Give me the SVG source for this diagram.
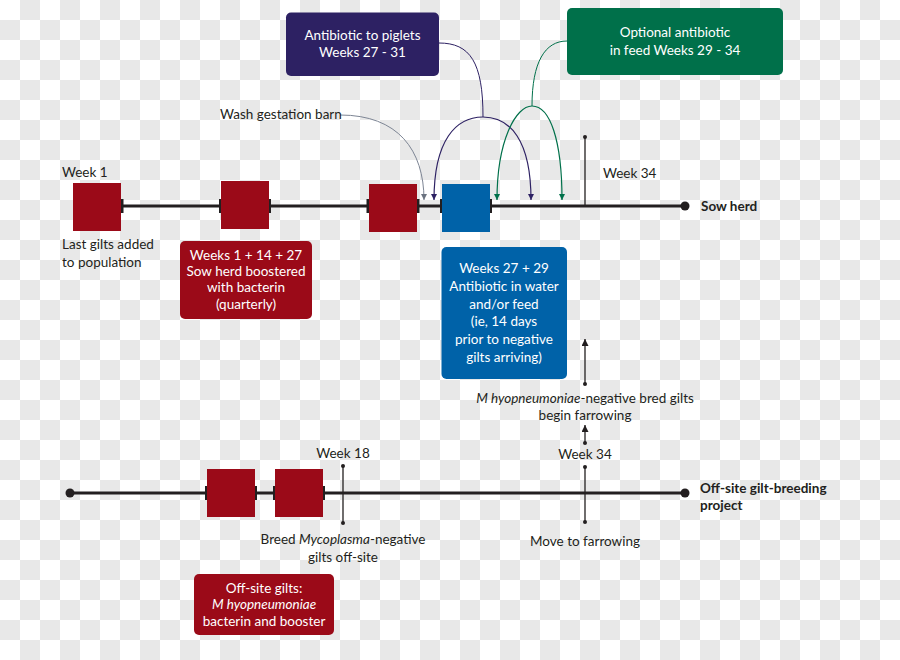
<svg xmlns="http://www.w3.org/2000/svg" width="900" height="660" viewBox="0 0 900 660">
<defs>
<marker id="aGray" viewBox="0 0 10 10" refX="5" refY="10" markerWidth="6" markerHeight="6" markerUnits="userSpaceOnUse"><path d="M0,0 L10,0 L5,10 Z" fill="#6b7380"/></marker>
<marker id="aPur" viewBox="0 0 10 10" refX="5" refY="10" markerWidth="6" markerHeight="6" markerUnits="userSpaceOnUse"><path d="M0,0 L10,0 L5,10 Z" fill="#2d2163"/></marker>
<marker id="aGrn" viewBox="0 0 10 10" refX="5" refY="10" markerWidth="6" markerHeight="6" markerUnits="userSpaceOnUse"><path d="M0,0 L10,0 L5,10 Z" fill="#00704a"/></marker>
<marker id="aUp" viewBox="0 0 10 10" refX="5" refY="0" markerWidth="7" markerHeight="8" markerUnits="userSpaceOnUse"><path d="M0,10 L5,0 L10,10 Z" fill="#231f20"/></marker>
</defs>
<style>
.t{font-family:Lato,"Open Sans","Liberation Sans",sans-serif;font-size:13.5px;fill:#231f20}
.b{font-weight:bold}
.w{fill:#ffffff;text-anchor:middle}
.c{text-anchor:middle}
.i{font-style:italic}
.tl{stroke:#231f20;stroke-width:3;fill:none}
.thin{stroke:#231f20;stroke-width:1.3;fill:none}
.tick{fill:#231f20}
.red{fill:#9b0a18}
.dot{fill:#231f20}
.chk{stroke:#e8e8e8;stroke-width:20;stroke-dasharray:20 20;fill:none}
</style>
<rect width="900" height="660" fill="#ffffff"/>
<g id="background">
<path class="chk" d="M20,10H900M20,50H900M20,90H900M20,130H900M20,170H900M20,210H900M20,250H900M20,290H900M20,330H900M20,370H900M20,410H900M20,450H900M20,490H900M20,530H900M20,570H900M20,610H900M20,650H900"/>
<path class="chk" d="M0,30H900M0,70H900M0,110H900M0,150H900M0,190H900M0,230H900M0,270H900M0,310H900M0,350H900M0,390H900M0,430H900M0,470H900M0,510H900M0,550H900M0,590H900M0,630H900"/>
</g>

<g id="connectors">
<line class="tl" x1="73" y1="206" x2="685" y2="206"/>
<circle class="dot" cx="685" cy="206" r="4.5"/>
<line class="tl" x1="70" y1="493" x2="685" y2="493"/>
<circle class="dot" cx="70" cy="493" r="4.5"/>
<circle class="dot" cx="685" cy="493" r="4.5"/>
<rect class="tick" x="121" y="199" width="2.5" height="14"/>
<rect class="tick" x="219" y="199" width="2.5" height="14"/>
<rect class="tick" x="268.5" y="199" width="2.5" height="14"/>
<rect class="tick" x="366.5" y="199" width="2.5" height="14"/>
<rect class="tick" x="417" y="199" width="2.5" height="14"/>
<rect class="tick" x="440" y="199" width="2.5" height="14"/>
<rect class="tick" x="489.5" y="199" width="2.5" height="14"/>
<rect class="tick" x="205" y="486" width="2.5" height="14"/>
<rect class="tick" x="254.5" y="486" width="2.5" height="14"/>
<rect class="tick" x="273" y="486" width="2.5" height="14"/>
<rect class="tick" x="322.5" y="486" width="2.5" height="14"/>
<line class="thin" x1="585" y1="137" x2="585" y2="206"/>
<circle class="dot" cx="585" cy="137" r="2"/>
<line class="thin" x1="343" y1="466" x2="343" y2="523"/>
<circle class="dot" cx="343" cy="466" r="2"/>
<circle class="dot" cx="343" cy="523" r="2"/>
<line class="thin" x1="585" y1="467" x2="585" y2="522"/>
<circle class="dot" cx="585" cy="467" r="2"/>
<circle class="dot" cx="585" cy="522" r="2"/>
<line class="thin" x1="585" y1="442" x2="585" y2="425" marker-end="url(#aUp)"/>
<circle class="dot" cx="585" cy="443" r="2"/>
<line class="thin" x1="585" y1="384" x2="585" y2="339" marker-end="url(#aUp)"/>
<circle class="dot" cx="585" cy="384" r="2"/>
<path d="M340,115 C398,115 424,150 424,200" stroke="#7d8594" stroke-width="1" fill="none" marker-end="url(#aGray)"/>
<path d="M439,43 C470,43 483,62 483,117" stroke="#2d2163" stroke-width="1" fill="none"/>
<path d="M434,200 C434,140 456,117 483,117 C510,117 531,140 531,200" stroke="#2d2163" stroke-width="1.2" fill="none" marker-start="url(#aPur)" marker-end="url(#aPur)"/>
<path d="M567,41 C545,41 532,62 532,106" stroke="#00704a" stroke-width="1" fill="none"/>
<path d="M497,200 C497,140 516,106 532,106 C550,106 562,140 562,200" stroke="#00704a" stroke-width="1.2" fill="none" marker-start="url(#aGrn)" marker-end="url(#aGrn)"/>
</g>

<g id="sq1"><rect class="red" x="73" y="183" width="48" height="48"/></g>
<g id="sq2"><rect class="red" x="221" y="181" width="48" height="48"/></g>
<g id="sq3"><rect class="red" x="369" y="184" width="48" height="48"/></g>
<g id="sq4"><rect x="442" y="184" width="48" height="48" fill="#0062a8"/></g>
<g id="sq5"><rect class="red" x="207" y="469" width="48" height="48"/></g>
<g id="sq6"><rect class="red" x="275" y="469" width="48" height="48"/></g>

<g id="piglets">
<rect x="286" y="12.5" width="153" height="63.5" rx="5" fill="#2d2163"/>
<text class="t w" x="362.5" y="40">Antibiotic to piglets</text>
<text class="t w" x="362.5" y="57">Weeks 27 - 31</text>
</g>
<g id="optional">
<rect x="567" y="8" width="216" height="67" rx="5" fill="#00704a"/>
<text class="t w" x="675" y="37">Optional antibiotic</text>
<text class="t w" x="675" y="55">in feed Weeks 29 - 34</text>
</g>
<g id="booster">
<rect x="180" y="241" width="132" height="78" rx="5" fill="#9b0a18"/>
<text class="t w" x="246" y="260">Weeks 1 + 14 + 27</text>
<text class="t w" x="246" y="276">Sow herd boostered</text>
<text class="t w" x="246" y="292">with bacterin</text>
<text class="t w" x="246" y="309">(quarterly)</text>
</g>
<g id="water">
<rect x="441.5" y="247" width="125.5" height="132" rx="5" fill="#0062a8"/>
<text class="t w" x="504" y="273">Weeks 27 + 29</text>
<text class="t w" x="504" y="291">Antibiotic in water</text>
<text class="t w" x="504" y="309">and/or feed</text>
<text class="t w" x="504" y="326">(ie, 14 days</text>
<text class="t w" x="504" y="344">prior to negative</text>
<text class="t w" x="504" y="362">gilts arriving)</text>
</g>
<g id="offsite-gilts">
<rect x="194" y="574" width="140" height="61" rx="5" fill="#9b0a18"/>
<text class="t w" x="264" y="593">Off-site gilts:</text>
<text class="t w" x="264" y="609"><tspan class="i">M hyopneumoniae</tspan></text>
<text class="t w" x="264" y="626">bacterin and booster</text>
</g>

<g id="labels">
<text class="t" x="62" y="177">Week 1</text>
<text class="t" x="62" y="249">Last gilts added</text>
<text class="t" x="62" y="267">to population</text>
<text class="t" x="220" y="119">Wash gestation barn</text>
<text class="t" x="603" y="178">Week 34</text>
<text class="t b" x="701" y="211">Sow herd</text>
<text class="t c" x="585" y="403"><tspan class="i">M hyopneumoniae</tspan>-negative bred gilts</text>
<text class="t c" x="585" y="420">begin farrowing</text>
<text class="t c" x="585" y="459">Week 34</text>
<text class="t b" x="700" y="493">Off-site gilt-breeding</text>
<text class="t b" x="700" y="510">project</text>
<text class="t c" x="585" y="546">Move to farrowing</text>
<text class="t c" x="343" y="458">Week 18</text>
<text class="t c" x="343" y="544">Breed <tspan class="i">Mycoplasma</tspan>-negative</text>
<text class="t c" x="343" y="562">gilts off-site</text>
</g>
</svg>
